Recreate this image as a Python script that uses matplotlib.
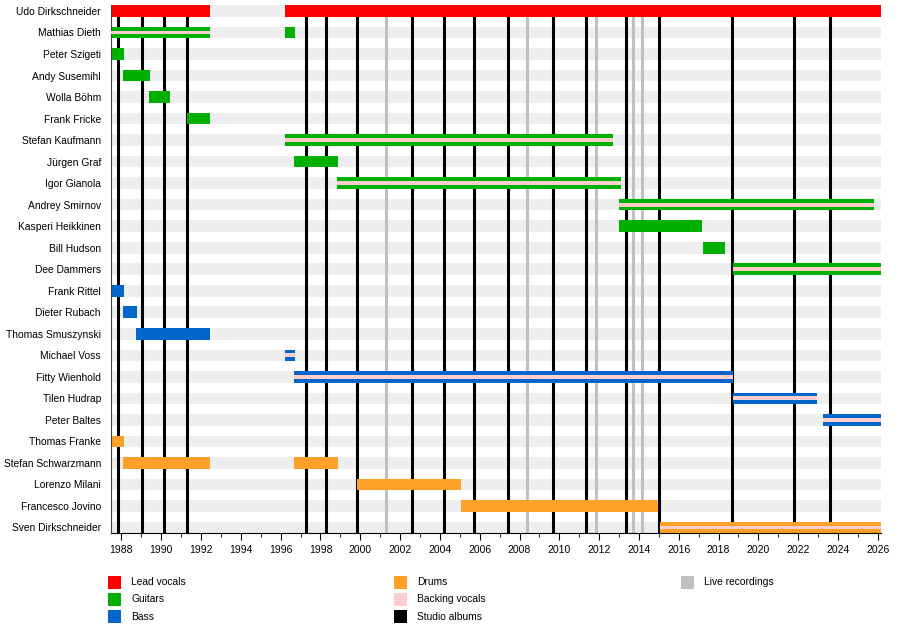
import matplotlib
matplotlib.use('Agg')
import matplotlib.pyplot as plt
from matplotlib.patches import Rectangle

plt.rcParams['font.family'] = ['Liberation Sans', 'DejaVu Sans']

# Band members, top to bottom
members = ['Udo Dirkschneider', 'Mathias Dieth', 'Peter Szigeti', 'Andy Susemihl',
           'Wolla Böhm', 'Frank Fricke', 'Stefan Kaufmann', 'Jürgen Graf',
           'Igor Gianola', 'Andrey Smirnov', 'Kasperi Heikkinen', 'Bill Hudson',
           'Dee Dammers', 'Frank Rittel', 'Dieter Rubach', 'Thomas Smuszynski',
           'Michael Voss', 'Fitty Wienhold', 'Tilen Hudrap', 'Peter Baltes',
           'Thomas Franke', 'Stefan Schwarzmann', 'Lorenzo Milani',
           'Francesco Jovino', 'Sven Dirkschneider']

START = 1987.46
END = 2026.15

# (member, start, end, role, with backing vocals)
periods = [
    ('Udo Dirkschneider', START, 1992.45, 'Lead vocals', False),
    ('Udo Dirkschneider', 1996.22, END, 'Lead vocals', False),
    ('Mathias Dieth', START, 1992.45, 'Guitars', True),
    ('Mathias Dieth', 1996.22, 1996.72, 'Guitars', False),
    ('Peter Szigeti', START, 1988.13, 'Guitars', False),
    ('Andy Susemihl', 1988.08, 1989.43, 'Guitars', False),
    ('Wolla Böhm', 1989.38, 1990.44, 'Guitars', False),
    ('Frank Fricke', 1991.31, 1992.45, 'Guitars', False),
    ('Stefan Kaufmann', 1996.22, 2012.70, 'Guitars', True),
    ('Jürgen Graf', 1996.67, 1998.88, 'Guitars', False),
    ('Igor Gianola', 1998.83, 2013.10, 'Guitars', True),
    ('Andrey Smirnov', 2013.00, 2025.80, 'Guitars', True),
    ('Kasperi Heikkinen', 2013.00, 2017.17, 'Guitars', False),
    ('Bill Hudson', 2017.22, 2018.33, 'Guitars', False),
    ('Dee Dammers', 2018.73, END, 'Guitars', True),
    ('Frank Rittel', START, 1988.13, 'Bass', False),
    ('Dieter Rubach', 1988.08, 1988.78, 'Bass', False),
    ('Thomas Smuszynski', 1988.73, 1992.45, 'Bass', False),
    ('Michael Voss', 1996.22, 1996.72, 'Bass', True),
    ('Fitty Wienhold', 1996.67, 2018.73, 'Bass', True),
    ('Tilen Hudrap', 2018.73, 2022.95, 'Bass', True),
    ('Peter Baltes', 2023.24, END, 'Bass', True),
    ('Thomas Franke', START, 1988.13, 'Drums', False),
    ('Stefan Schwarzmann', 1988.08, 1992.45, 'Drums', False),
    ('Stefan Schwarzmann', 1996.67, 1998.88, 'Drums', False),
    ('Lorenzo Milani', 1999.83, 2005.04, 'Drums', False),
    ('Francesco Jovino', 2005.04, 2014.97, 'Drums', False),
    ('Sven Dirkschneider', 2015.06, END, 'Drums', True),
]

studio_albums = [1987.84, 1989.05, 1990.15, 1991.28, 1997.25, 1998.30, 1999.82,
                 2002.58, 2004.22, 2005.71, 2007.41, 2009.67, 2011.34, 2013.35,
                 2015.03, 2018.66, 2021.81, 2023.60]
live_recordings = [2001.29, 2008.36, 2011.84, 2013.72, 2014.14]

colors = {
    'Lead vocals': '#ff0000',
    'Guitars': '#00b000',
    'Bass': '#0066cc',
    'Drums': '#ffa028',
    'Backing vocals': '#ffcccc',
    'Studio albums': '#000000',
    'Live recordings': '#c0c0c0',
}

fig = plt.figure(figsize=(9, 6.43), dpi=100)
ax = fig.add_axes([0.123, 0.1706, 0.8556, 0.8224])

h = 0.54
n = len(members)
for i in range(n):
    ax.add_patch(Rectangle((START, i - h / 2), END - START, h,
                           facecolor='#eeeeee', edgecolor='none', zorder=0))

for x in live_recordings:
    ax.axvline(x, color=colors['Live recordings'], lw=2.2, zorder=1)
for x in studio_albums:
    ax.axvline(x, color=colors['Studio albums'], lw=2.2, zorder=1)

for name, s, e, role, bv in periods:
    y = members.index(name)
    ax.barh(y, e - s, left=s, height=h, color=colors[role], zorder=2)
    if bv:
        ax.barh(y, e - s, left=s, height=h / 3, color=colors['Backing vocals'], zorder=3)

ax.set_xlim(START, END)
ax.set_ylim(n - 1 + h / 2, -h / 2 - 0.03)
ax.set_yticks(range(n))
ax.set_yticklabels(members, fontsize=7.4)
ax.tick_params(axis='y', length=0, pad=7)
ax.set_xticks(range(1988, 2027, 2))
ax.set_xticks(range(1989, 2027, 2), minor=True)
ax.tick_params(axis='x', which='major', length=5, labelsize=7.5, pad=3.5)
ax.tick_params(axis='x', which='minor', length=3)
for side in ['top', 'right']:
    ax.spines[side].set_visible(False)
ax.spines['left'].set_color('#444444')
ax.spines['left'].set_linewidth(0.8)
ax.spines['bottom'].set_linewidth(0.8)

# legend
legend_cols = [
    (108, ['Lead vocals', 'Guitars', 'Bass']),
    (394, ['Drums', 'Backing vocals', 'Studio albums']),
    (681, ['Live recordings']),
]
row_y = [582, 599.5, 616.5]
for x0, labels in legend_cols:
    for lab, yc in zip(labels, row_y):
        fig.add_artist(Rectangle((x0 / 900, 1 - (yc + 6.5) / 643), 13 / 900, 13 / 643,
                                 facecolor=colors[lab], edgecolor='none',
                                 transform=fig.transFigure))
        fig.text((x0 + 23) / 900, 1 - yc / 643, lab, fontsize=7.4, va='center', ha='left')

fig.savefig('out.png', dpi=100)
